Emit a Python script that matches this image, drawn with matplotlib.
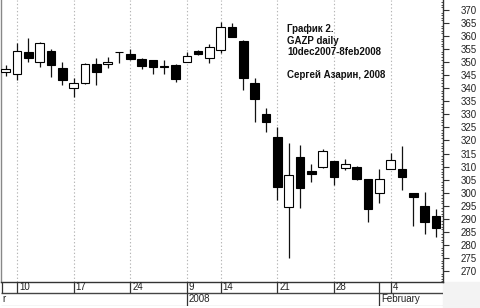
import matplotlib
matplotlib.use("Agg")
import matplotlib.pyplot as plt
from matplotlib.ticker import MultipleLocator, FixedLocator

plt.rcParams['font.family'] = ['Liberation Sans', 'DejaVu Sans']

# Daily OHLC, GAZP 7 Dec 2007 - 8 Feb 2008 (index = trading day)
dates = ["Dec 7", "Dec 10", "Dec 11", "Dec 12", "Dec 13", "Dec 14",
         "Dec 17", "Dec 18", "Dec 19", "Dec 20", "Dec 21",
         "Dec 24", "Dec 25", "Dec 26", "Dec 27", "Dec 28",
         "Jan 9", "Jan 10", "Jan 11",
         "Jan 14", "Jan 15", "Jan 16", "Jan 17", "Jan 18",
         "Jan 21", "Jan 22", "Jan 23", "Jan 24", "Jan 25",
         "Jan 28", "Jan 29", "Jan 30", "Jan 31", "Feb 1",
         "Feb 4", "Feb 5", "Feb 6", "Feb 7", "Feb 8"]
opens = [346.2, 345.5, 353.9, 350.1, 354.3, 347.8,
         340.1, 342.0, 349.3, 349.3, 353.8,
         353.1, 351.2, 350.8, 348.3, 348.9,
         350.1, 354.3, 351.6,
         354.7, 363.5, 358.1, 342.0, 330.2,
         321.3, 294.5, 313.7, 308.3, 309.8,
         312.1, 309.5, 309.8, 305.2, 299.9,
         309.1, 309.1, 299.9, 294.9, 291.1]
highs = [348.9, 357.4, 359.3, 357.8, 355.0, 350.1,
         343.9, 349.5, 351.6, 352.0, 354.0,
         355.0, 351.4, 351.0, 350.8, 349.1,
         353.9, 354.5, 357.0,
         365.4, 365.0, 358.3, 343.9, 332.5,
         325.2, 319.0, 318.3, 311.0, 316.7,
         312.3, 312.9, 310.2, 305.4, 309.1,
         315.2, 317.9, 300.0, 300.3, 293.8]
lows = [344.7, 343.2, 350.1, 348.2, 344.3, 341.3,
        336.7, 341.8, 341.3, 347.8, 349.7,
        351.0, 347.4, 345.5, 345.5, 342.4,
        350.0, 352.9, 349.7,
        353.5, 359.5, 339.3, 327.1, 323.3,
        297.2, 275.0, 294.1, 304.1, 309.6,
        303.0, 308.7, 305.0, 288.8, 296.1,
        309.0, 301.0, 287.2, 284.2, 283.0]
closes = [347.4, 354.4, 351.6, 357.4, 348.9, 343.2,
          342.0, 349.3, 346.2, 350.1, 354.0,
          351.2, 348.5, 348.2, 348.1, 343.6,
          352.4, 353.1, 355.8,
          363.5, 359.7, 344.0, 335.9, 327.1,
          302.2, 306.8, 301.8, 307.2, 316.0,
          306.0, 311.0, 305.2, 293.8, 305.2,
          312.5, 306.0, 298.4, 288.8, 286.5]

# Date axis labels
day_tick_idx = [1, 6, 11, 16, 19, 24, 29, 34]
day_tick_lbl = ["10", "17", "24", "9", "14", "21", "28", "4"]
month_idx = [-0.42, 16, 33]
month_lbl = ["r", "2008", "February"]

W, H = 480, 308
fig = plt.figure(figsize=(W / 100, H / 100), dpi=100)
fig.patch.set_facecolor('white')

ax_l, ax_r, ax_b, ax_t = 1, 443, 282, 0
ax = fig.add_axes([ax_l / W, (H - ax_b) / H, (ax_r - ax_l) / W, (ax_b - ax_t) / H])
xmin, xmax = -0.415, 38.63
ax.set_xlim(xmin, xmax)
ax.set_ylim(265.8, 373.8)

# grid
ax.vlines(day_tick_idx, 265.8, 373.8, colors='#b5b5b5', linestyles=(0, (1.2, 2.0)),
          linewidth=0.8, zorder=0)

n = len(opens)
xs = list(range(n))
ax.vlines(xs, lows, highs, colors='#111111', linewidth=0.9, zorder=2)
bw = 0.76
for i in range(n):
    o, c = opens[i], closes[i]
    lo = min(o, c)
    h = max(abs(c - o), 0.25)
    fc = 'white' if c >= o else 'black'
    ax.bar(i, h, bottom=lo, width=bw, color=fc, edgecolor='black', linewidth=0.8, zorder=3)

ax.set_xticks([])
ax.yaxis.tick_right()
ax.yaxis.set_major_locator(MultipleLocator(5))
ax.yaxis.set_minor_locator(MultipleLocator(1))
ax.tick_params(axis='y', which='major', direction='out', length=4, width=0.8,
               colors='#333333', labelsize=7, pad=9, labelcolor='#222222')
ax.tick_params(axis='y', which='minor', direction='in', length=1.6, width=0.6, colors='#333333')
ax.set_yticks(range(270, 371, 5))
for s in ['top']:
    ax.spines[s].set_visible(False)
ax.spines['left'].set_color('#888888')
ax.spines['right'].set_color('#333333')
ax.spines['bottom'].set_color('#333333')
ax.spines['left'].set_linewidth(1.0)
ax.spines['right'].set_linewidth(1.0)
ax.spines['bottom'].set_linewidth(1.0)

# annotation
tx = 287 / W
for txt, py in [("График 2.", 29), ("GAZP daily", 40.5), ("10dec2007-8feb2008", 52),
                ("Сергей Азарин, 2008", 75.5)]:
    fig.text(tx, 1 - py / H, txt, fontsize=7, fontweight='bold', va='center', ha='left',
             color='#111111')

# date axis (two rows)
dax = fig.add_axes([ax_l / W, (H - 306) / H, (ax_r - ax_l) / W, (306 - ax_b) / H])
dax.set_xlim(xmin, xmax)
dax.set_ylim(0, 24)
dax.axis('off')
dax.hlines([13.5], xmin, xmax, colors='#444444', linewidth=1.0)
dax.hlines([0.3], xmin, xmax, colors='#cccccc', linewidth=1.0)
row1_lines = day_tick_idx + [33, -0.3]
dax.vlines(row1_lines, 13.5, 24, colors='#333333', linewidth=0.9)
off = 0.17
for i, l in zip(day_tick_idx, day_tick_lbl):
    dax.text(i + off, 18.5, l, fontsize=7, va='center', ha='left', color='#222222')
dax.vlines([16, 33], 0.3, 13.5, colors='#333333', linewidth=0.9)
for i, l in zip(month_idx, month_lbl):
    dax.text(i + off, 7, l, fontsize=7, va='center', ha='left', color='#222222')

# light grey corner below price labels
fig.patches.append(matplotlib.patches.Rectangle((ax_r / W, 0), 1 - ax_r / W, (H - ax_b) / H,
                                                transform=fig.transFigure, color='#f3f3f3',
                                                zorder=-1))

fig.savefig("out.png", dpi=100, facecolor='white')
